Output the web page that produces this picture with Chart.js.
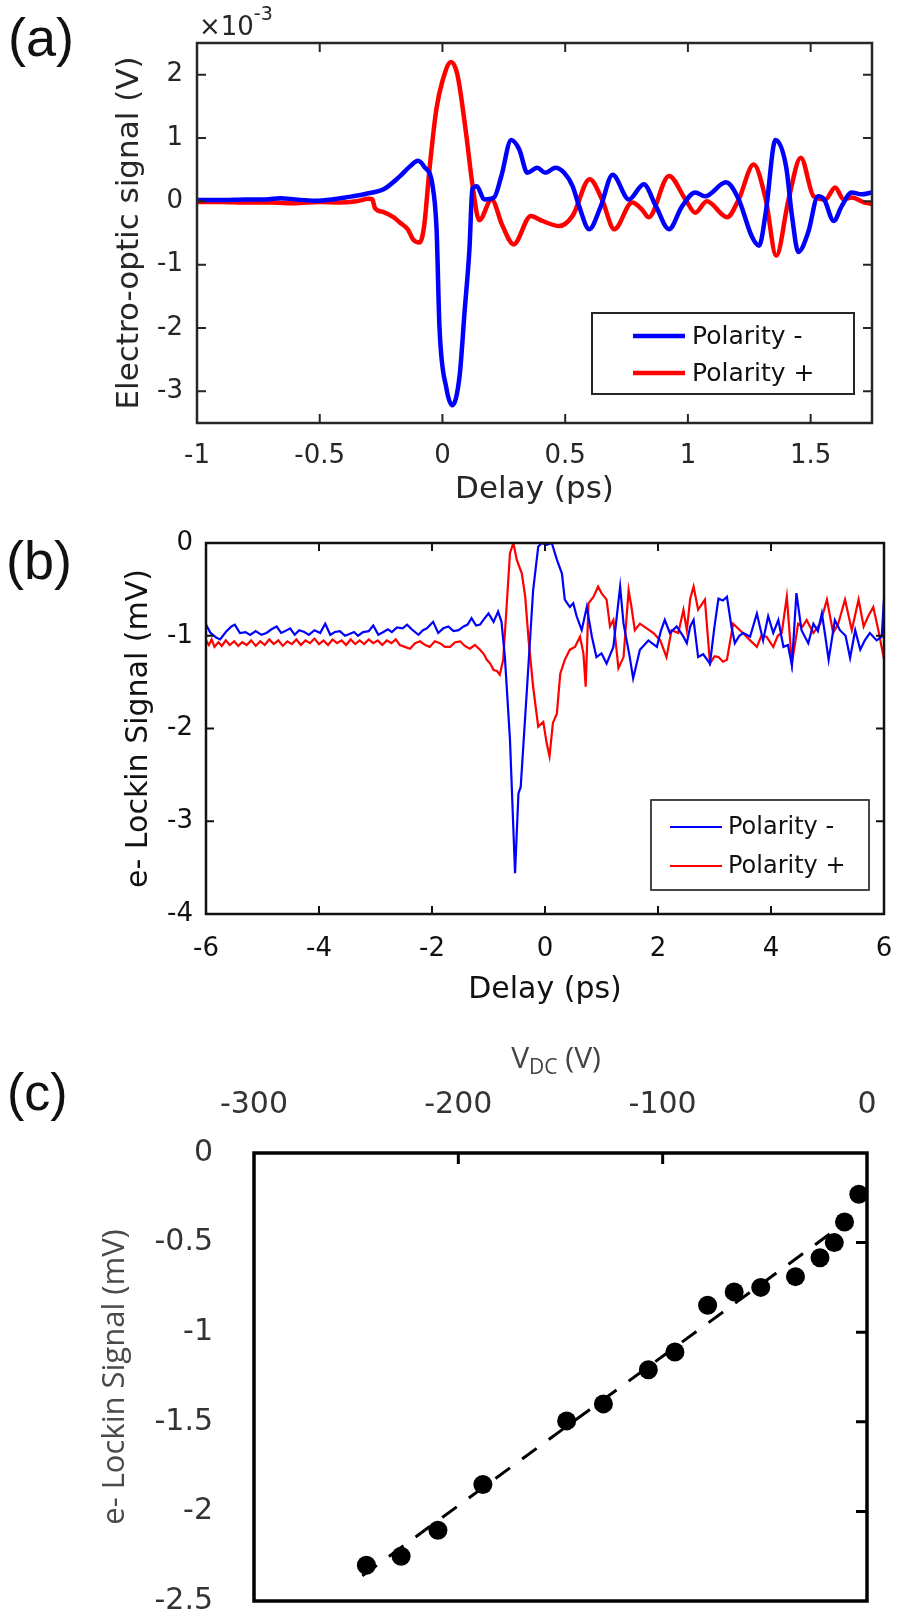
<!DOCTYPE html>
<html>
<head>
<meta charset="utf-8">
<script src="https://cdn.jsdelivr.net/npm/chart.js@4"></script>
<style>
html, body { margin: 0; padding: 0; background: #fff; }
body { width: 897px; height: 1623px; position: relative; overflow: hidden; }
canvas { position: absolute; left: 0; }
.panel { position: absolute; font-family: 'Liberation Sans', sans-serif; line-height: 54px; font-size: 54px; color: #111; }
</style>
</head>
<body>
<div class="panel" style="left:8px; top:10px;">(a)</div>
<div class="panel" style="left:6px; top:533px;">(b)</div>
<div class="panel" style="left:7px; top:1066px; font-size:52px; line-height:52px;">(c)</div>
<canvas id="chartA" width="897" height="520" style="top:0px"></canvas>
<canvas id="chartB" width="897" height="500" style="top:520px"></canvas>
<canvas id="chartC" width="897" height="593" style="top:1030px"></canvas>
<script>
const BLUE = '#0000ff';
const RED = '#ff0000';
const seriesLabels = ['Polarity -', 'Polarity +'];

// (a) electro-optic signal, x in ps, y in 1e-3 V
const eoDelayTicks = [-1, -0.5, 0, 0.5, 1, 1.5];
const eoSignalTicks = [-3, -2, -1, 0, 1, 2];
const eoPolarityNeg = [
  [-1.00, 0.02], [-0.90, 0.02], [-0.80, 0.03], [-0.72, 0.03], [-0.66, 0.05], [-0.60, 0.03],
  [-0.52, 0.01], [-0.45, 0.03], [-0.38, 0.07], [-0.31, 0.12], [-0.24, 0.19], [-0.175, 0.39],
  [-0.13, 0.56], [-0.10, 0.64], [-0.075, 0.55], [-0.04, 0.24], [-0.024, -0.44], [-0.012, -2.0],
  [0.016, -2.95], [0.04, -3.22], [0.07, -2.75], [0.09, -1.75], [0.11, -0.75], [0.122, 0.2],
  [0.14, 0.24], [0.17, 0.03], [0.21, 0.06], [0.24, 0.4], [0.28, 0.97], [0.313, 0.82],
  [0.346, 0.45], [0.386, 0.53], [0.42, 0.45], [0.46, 0.53], [0.496, 0.45], [0.53, 0.24],
  [0.557, -0.08], [0.598, -0.44], [0.645, -0.08], [0.693, 0.42], [0.76, 0.03], [0.82, 0.27],
  [0.87, -0.08], [0.923, -0.44], [0.976, -0.08], [1.03, 0.14], [1.07, 0.08], [1.155, 0.30],
  [1.207, 0.03], [1.26, -0.55], [1.29, -0.70], [1.317, -0.18], [1.357, 0.97], [1.40, 0.55],
  [1.424, -0.23], [1.45, -0.80], [1.49, -0.49], [1.53, 0.08], [1.555, 0.03], [1.594, -0.31],
  [1.626, -0.08], [1.667, 0.14], [1.707, 0.11], [1.75, 0.14]
];
const eoPolarityPos = [
  [-1.00, -0.01], [-0.90, -0.01], [-0.80, -0.02], [-0.70, -0.02], [-0.60, -0.03], [-0.50, -0.01],
  [-0.42, -0.02], [-0.35, 0.0], [-0.30, 0.04], [-0.285, 0.03], [-0.276, -0.10], [-0.24, -0.17],
  [-0.20, -0.25], [-0.175, -0.33], [-0.14, -0.45], [-0.12, -0.60], [-0.093, -0.65], [-0.075, -0.4],
  [-0.053, 0.5], [-0.025, 1.45], [0.0, 1.9], [0.035, 2.2], [0.061, 2.0], [0.096, 1.08],
  [0.123, 0.24], [0.15, -0.3], [0.20, 0.03], [0.245, -0.39], [0.29, -0.68], [0.36, -0.23],
  [0.407, -0.31], [0.476, -0.39], [0.53, -0.23], [0.60, 0.35], [0.65, 0.03], [0.70, -0.44],
  [0.773, -0.02], [0.813, -0.13], [0.84, -0.25], [0.923, 0.40], [0.99, 0.03], [1.03, -0.18],
  [1.077, 0.0], [1.16, -0.25], [1.207, 0.03], [1.268, 0.58], [1.317, 0.03], [1.36, -0.86],
  [1.41, 0.03], [1.46, 0.69], [1.512, 0.08], [1.56, 0.03], [1.60, 0.22], [1.635, 0.03],
  [1.667, 0.06], [1.72, -0.02], [1.75, -0.04]
];

// (b) e- lockin signal, x in ps, y in mV
const lockDelayTicks = [-6, -4, -2, 0, 2, 4, 6];
const lockSignalTicks = [-4, -3, -2, -1, 0];
const lockPolarityNeg = [
  [-6.00,-0.88],[-5.92,-0.97],[-5.82,-1.02],[-5.75,-1.04],[-5.65,-0.96],[-5.55,-0.90],[-5.49,-0.88],
  [-5.40,-0.97],[-5.30,-0.96],[-5.22,-0.99],[-5.12,-0.95],[-5.02,-0.99],[-4.93,-0.97],[-4.84,-0.93],
  [-4.75,-0.90],[-4.67,-0.97],[-4.60,-0.95],[-4.51,-0.92],[-4.43,-0.99],[-4.35,-0.94],[-4.26,-0.96],
  [-4.18,-0.99],[-4.08,-0.94],[-3.98,-0.97],[-3.89,-0.87],[-3.80,-0.99],[-3.72,-0.96],[-3.63,-0.95],
  [-3.54,-1.00],[-3.46,-0.98],[-3.38,-0.96],[-3.31,-1.00],[-3.22,-0.96],[-3.12,-0.95],[-3.04,-0.89],
  [-2.95,-0.99],[-2.86,-0.96],[-2.78,-0.93],[-2.71,-0.96],[-2.62,-0.91],[-2.52,-0.92],[-2.44,-0.88],
  [-2.36,-0.93],[-2.24,-0.99],[-2.16,-0.94],[-2.09,-0.92],[-1.98,-0.85],[-1.89,-0.97],[-1.80,-0.92],
  [-1.71,-0.90],[-1.62,-0.95],[-1.53,-0.94],[-1.44,-0.90],[-1.37,-0.88],[-1.30,-0.81],[-1.22,-0.89],
  [-1.15,-0.88],[-1.08,-0.82],[-1.00,-0.76],[-0.91,-0.85],[-0.83,-0.74],[-0.77,-0.85],[-0.71,-1.23],
  [-0.62,-2.12],[-0.53,-3.56],[-0.47,-2.70],[-0.43,-2.63],[-0.32,-1.58],[-0.21,-0.51],[-0.12,-0.04],
  [-0.06,0.00],[0.03,-0.02],[0.12,0.00],[0.21,-0.18],[0.30,-0.33],[0.35,-0.61],[0.44,-0.69],
  [0.50,-0.65],[0.56,-0.79],[0.65,-0.94],[0.74,-0.69],[0.83,-1.01],[0.91,-1.23],[1.00,-1.19],
  [1.09,-1.30],[1.21,-1.12],[1.33,-0.47],[1.39,-0.87],[1.50,-1.23],[1.56,-1.46],[1.68,-1.15],
  [1.83,-1.05],[1.98,-1.12],[2.05,-0.95],[2.12,-0.83],[2.21,-0.97],[2.33,-0.90],[2.45,-1.01],
  [2.51,-1.08],[2.57,-0.90],[2.63,-0.83],[2.71,-1.23],[2.80,-1.20],[2.92,-1.30],[3.00,-0.90],
  [3.07,-0.60],[3.15,-0.62],[3.22,-0.58],[3.30,-0.90],[3.36,-1.08],[3.44,-1.00],[3.51,-0.97],
  [3.63,-1.01],[3.75,-0.76],[3.86,-1.05],[3.95,-0.79],[4.04,-0.97],[4.13,-0.83],[4.22,-1.12],
  [4.30,-1.10],[4.37,-1.32],[4.45,-0.54],[4.54,-0.94],[4.66,-1.08],[4.75,-0.87],[4.83,-0.95],
  [4.90,-0.76],[4.96,-1.00],[5.02,-1.26],[5.13,-0.83],[5.22,-0.94],[5.32,-1.00],[5.40,-1.24],
  [5.49,-0.94],[5.58,-1.15],[5.66,-1.05],[5.75,-0.97],[5.87,-1.05],[5.96,-1.01],[6.00,-0.60]
];
const lockPolarityPos = [
  [-6.00,-1.05],[-5.95,-1.10],[-5.90,-1.04],[-5.85,-1.12],[-5.78,-1.07],[-5.72,-1.11],[-5.65,-1.05],
  [-5.58,-1.10],[-5.50,-1.06],[-5.43,-1.11],[-5.36,-1.07],[-5.28,-1.10],[-5.20,-1.05],[-5.12,-1.11],
  [-5.04,-1.06],[-4.96,-1.10],[-4.88,-1.04],[-4.80,-1.09],[-4.72,-1.05],[-4.64,-1.11],[-4.56,-1.06],
  [-4.48,-1.09],[-4.40,-1.04],[-4.32,-1.10],[-4.24,-1.05],[-4.16,-1.08],[-4.08,-1.03],[-4.00,-1.09],
  [-3.92,-1.05],[-3.84,-1.10],[-3.76,-1.04],[-3.68,-1.08],[-3.60,-1.05],[-3.52,-1.10],[-3.44,-1.04],
  [-3.36,-1.09],[-3.28,-1.05],[-3.20,-1.09],[-3.12,-1.04],[-3.04,-1.08],[-2.96,-1.05],[-2.88,-1.10],
  [-2.80,-1.05],[-2.72,-1.08],[-2.64,-1.04],[-2.57,-1.10],[-2.48,-1.12],[-2.39,-1.14],[-2.30,-1.08],
  [-2.21,-1.06],[-2.12,-1.10],[-2.04,-1.12],[-1.95,-1.06],[-1.86,-1.08],[-1.77,-1.12],[-1.68,-1.12],
  [-1.59,-1.07],[-1.50,-1.06],[-1.42,-1.11],[-1.33,-1.14],[-1.24,-1.10],[-1.15,-1.15],[-1.08,-1.20],
  [-1.03,-1.26],[-0.97,-1.30],[-0.91,-1.37],[-0.85,-1.38],[-0.80,-1.42],[-0.74,-1.26],[-0.68,-0.69],
  [-0.62,-0.11],[-0.56,0.00],[-0.50,-0.18],[-0.41,-0.33],[-0.35,-0.58],[-0.29,-1.05],[-0.21,-1.55],
  [-0.12,-1.98],[-0.03,-1.93],[0.03,-2.16],[0.08,-2.30],[0.14,-1.94],[0.21,-1.84],[0.27,-1.41],
  [0.35,-1.26],[0.44,-1.15],[0.53,-1.12],[0.62,-1.01],[0.68,-1.19],[0.72,-1.55],[0.77,-0.65],
  [0.86,-0.58],[0.94,-0.47],[1.00,-0.54],[1.09,-0.61],[1.15,-0.90],[1.21,-0.83],[1.30,-1.35],
  [1.39,-1.23],[1.48,-0.51],[1.53,-0.69],[1.59,-0.94],[1.68,-0.87],[1.80,-0.92],[1.92,-0.97],
  [2.04,-1.05],[2.15,-1.23],[2.24,-0.94],[2.36,-0.97],[2.45,-0.72],[2.51,-0.94],[2.57,-0.60],
  [2.63,-0.47],[2.71,-0.72],[2.83,-0.61],[2.92,-1.30],[3.00,-1.22],[3.07,-1.23],[3.15,-1.28],
  [3.22,-1.26],[3.33,-0.87],[3.45,-0.94],[3.55,-1.00],[3.63,-1.05],[3.75,-1.12],[3.83,-1.00],
  [3.92,-1.01],[4.04,-1.12],[4.12,-1.00],[4.19,-0.97],[4.28,-0.58],[4.37,-1.30],[4.48,-0.87],
  [4.56,-0.90],[4.63,-0.83],[4.75,-0.97],[4.87,-0.87],[4.99,-0.61],[5.10,-0.97],[5.19,-0.87],
  [5.31,-0.61],[5.43,-0.94],[5.55,-0.61],[5.64,-0.90],[5.72,-0.79],[5.81,-0.69],[5.90,-0.94],
  [5.98,-1.19],[6.00,-1.12]
];

// (c) lockin signal vs DC voltage
const vdcTicks = [-300, -200, -100, 0];
const vdcSignalTicks = [0, -0.5, -1, -1.5, -2, -2.5];
const vdcVolts = [-245, -228, -210, -188, -147, -129, -107, -94, -78, -65, -52, -35, -23, -16, -11, -4];
const vdcSignal = [-2.30, -2.25, -2.105, -1.85, -1.495, -1.40, -1.21, -1.11, -0.85, -0.775, -0.75, -0.69, -0.585, -0.50, -0.385, -0.23];
const fitVolts = [-247, -12];
const fitSignal = [-2.36, -0.40];

function pts(pairs) {
  return pairs.map(p => ({ x: p[0], y: p[1] }));
}
function zip(xs, ys) {
  return xs.map((x, i) => ({ x: x, y: ys[i] }));
}
function fixTicks(list) {
  return s => { s.ticks = list.map(v => ({ value: v })); };
}
// fixed axis box sizes, and no extra room asked for edge labels
function xBox(h) {
  return s => { s.height = h; s.paddingLeft = 0; s.paddingRight = 0; };
}
function yBox(w) {
  return s => { s.width = w; s.paddingTop = 0; s.paddingBottom = 0; };
}

// box with inward tick marks, MATLAB style
const framePlugin = {
  id: 'frame',
  afterDatasetsDraw(chart, args, o) {
    const { ctx, chartArea: a } = chart;
    const xs = chart.scales.x, ys = chart.scales.y;
    ctx.save();
    ctx.strokeStyle = o.color;
    ctx.lineWidth = o.tickWidth;
    ctx.beginPath();
    o.xTicks.forEach(v => {
      const px = xs.getPixelForValue(v);
      if (o.xSides.includes('bottom')) { ctx.moveTo(px, a.bottom); ctx.lineTo(px, a.bottom - o.tickLen); }
      if (o.xSides.includes('top')) { ctx.moveTo(px, a.top); ctx.lineTo(px, a.top + o.tickLen); }
    });
    o.yTicks.forEach(v => {
      const py = ys.getPixelForValue(v);
      if (o.ySides.includes('left')) { ctx.moveTo(a.left, py); ctx.lineTo(a.left + o.tickLen, py); }
      if (o.ySides.includes('right')) { ctx.moveTo(a.right, py); ctx.lineTo(a.right - o.tickLen, py); }
    });
    ctx.stroke();
    ctx.lineWidth = o.borderWidth;
    ctx.strokeRect(a.left, a.top, a.right - a.left, a.bottom - a.top);
    ctx.restore();
  }
};

const boxLegendPlugin = {
  id: 'boxLegend',
  afterDraw(chart, args, o) {
    const ctx = chart.ctx;
    ctx.save();
    ctx.fillStyle = '#fff';
    ctx.fillRect(o.x, o.y, o.w, o.h);
    ctx.strokeStyle = o.color;
    ctx.lineWidth = o.borderWidth;
    ctx.strokeRect(o.x, o.y, o.w, o.h);
    chart.data.datasets.forEach((ds, i) => {
      const cy = o.y + o.rows[i];
      ctx.strokeStyle = ds.borderColor;
      ctx.lineWidth = ds.borderWidth;
      ctx.beginPath();
      ctx.moveTo(o.x + o.line[0], cy);
      ctx.lineTo(o.x + o.line[1], cy);
      ctx.stroke();
      ctx.fillStyle = o.textColor;
      ctx.font = o.font;
      ctx.textBaseline = 'middle';
      ctx.textAlign = 'left';
      ctx.fillText(ds.label, o.x + o.textX, cy + 1);
    });
    ctx.restore();
  }
};

const richTextPlugin = {
  id: 'richText',
  afterDraw(chart, args, o) {
    const ctx = chart.ctx;
    ctx.save();
    ctx.fillStyle = o.color;
    ctx.textBaseline = 'alphabetic';
    ctx.textAlign = 'left';
    const widths = o.parts.map(p => {
      ctx.font = p.size + 'px ' + o.family;
      return ctx.measureText(p.text).width;
    });
    const total = widths.reduce((s, w) => s + w, 0);
    let x = o.align === 'center' ? o.x - total / 2 : o.x;
    o.parts.forEach((p, i) => {
      ctx.font = p.size + 'px ' + o.family;
      ctx.fillText(p.text, x, o.y + (p.dy || 0));
      x += widths[i];
    });
    ctx.restore();
  }
};

Chart.defaults.font.family = "'DejaVu Sans', sans-serif";

// (a)
new Chart(document.getElementById('chartA'), {
  type: 'line',
  data: {
    datasets: [
      { label: seriesLabels[0], data: pts(eoPolarityNeg), borderColor: BLUE, borderWidth: 4.5,
        pointRadius: 0, cubicInterpolationMode: 'monotone' },
      { label: seriesLabels[1], data: pts(eoPolarityPos), borderColor: RED, borderWidth: 4.5,
        pointRadius: 0, cubicInterpolationMode: 'monotone' }
    ]
  },
  options: {
    responsive: false, devicePixelRatio: 1, animation: false,
    layout: { padding: { top: 43, right: 25, bottom: 0, left: 0 } },
    scales: {
      x: {
        type: 'linear', min: -1, max: 1.75,
        grid: { display: false, drawTicks: false }, border: { display: false },
        afterBuildTicks: fixTicks(eoDelayTicks),
        afterFit: xBox(97),
        ticks: { padding: 18, color: '#262626', font: { size: 26 }, maxRotation: 0, autoSkip: false, callback: v => String(v) },
        title: { display: true, text: 'Delay (ps)', color: '#262626', font: { size: 31 }, padding: { top: 0, bottom: 11 } }
      },
      y: {
        type: 'linear', min: -3.5, max: 2.5,
        grid: { display: false, drawTicks: false }, border: { display: false },
        afterBuildTicks: fixTicks(eoSignalTicks),
        afterFit: yBox(197),
        ticks: { padding: 14, color: '#262626', font: { size: 26 }, autoSkip: false, callback: v => String(v) },
        title: { display: true, text: 'Electro-optic signal (V)', color: '#262626', font: { size: 31 }, padding: { top: 111, bottom: 0 } }
      }
    },
    plugins: {
      legend: { display: false }, tooltip: { enabled: false },
      frame: { color: '#262626', tickWidth: 2, borderWidth: 2.5, tickLen: 9,
               xTicks: eoDelayTicks, xSides: ['top', 'bottom'], yTicks: eoSignalTicks, ySides: ['left', 'right'] },
      boxLegend: { x: 592, y: 313, w: 262, h: 81, rows: [23, 60], line: [41, 93], textX: 100,
                   color: '#262626', borderWidth: 2, textColor: '#111', font: "25px 'DejaVu Sans'" },
      richText: { family: "'DejaVu Sans'", color: '#262626', x: 199, y: 35, align: 'left',
                  parts: [{ text: '\u00d710', size: 26 }, { text: '-3', size: 19, dy: -15 }] }
    }
  },
  plugins: [framePlugin, boxLegendPlugin, richTextPlugin]
});

// (b)
new Chart(document.getElementById('chartB'), {
  type: 'line',
  data: {
    datasets: [
      { label: seriesLabels[0], data: pts(lockPolarityNeg), borderColor: BLUE, borderWidth: 2.2, pointRadius: 0, tension: 0 },
      { label: seriesLabels[1], data: pts(lockPolarityPos), borderColor: RED, borderWidth: 2.2, pointRadius: 0, tension: 0 }
    ]
  },
  options: {
    responsive: false, devicePixelRatio: 1, animation: false,
    layout: { padding: { top: 23, right: 13, bottom: 0, left: 0 } },
    scales: {
      x: {
        type: 'linear', min: -6, max: 6,
        grid: { display: false, drawTicks: false }, border: { display: false },
        afterBuildTicks: fixTicks(lockDelayTicks),
        afterFit: xBox(106),
        ticks: { padding: 20, color: '#111', font: { size: 26 }, maxRotation: 0, autoSkip: false, callback: v => String(v) },
        title: { display: true, text: 'Delay (ps)', color: '#111', font: { size: 30 }, padding: { top: 0, bottom: 12 } }
      },
      y: {
        type: 'linear', min: -4, max: 0,
        grid: { display: false, drawTicks: false }, border: { display: false },
        afterBuildTicks: fixTicks(lockSignalTicks),
        afterFit: yBox(206),
        ticks: { padding: 13, color: '#111', font: { size: 26 }, autoSkip: false, callback: v => String(v) },
        title: { display: true, text: 'e- Lockin Signal (mV)', color: '#111', font: { size: 30 }, padding: { top: 121, bottom: 0 } }
      }
    },
    plugins: {
      legend: { display: false }, tooltip: { enabled: false },
      frame: { color: '#111', tickWidth: 2, borderWidth: 2.5, tickLen: 8,
               xTicks: lockDelayTicks, xSides: ['top', 'bottom'], yTicks: lockSignalTicks, ySides: ['left', 'right'] },
      boxLegend: { x: 651, y: 280, w: 218, h: 90, rows: [27, 66], line: [19, 71], textX: 77,
                   color: '#333', borderWidth: 1.8, textColor: '#111', font: "24px 'DejaVu Sans'" }
    }
  },
  plugins: [framePlugin, boxLegendPlugin]
});

// (c)
new Chart(document.getElementById('chartC'), {
  type: 'scatter',
  data: {
    datasets: [
      { label: 'data', data: zip(vdcVolts, vdcSignal), backgroundColor: '#000', borderColor: '#000',
        pointRadius: 9.5, pointBorderWidth: 0, showLine: false, order: 0 },
      { label: 'fit', data: zip(fitVolts, fitSignal), borderColor: '#000', borderWidth: 3,
        borderDash: [18, 15], pointRadius: 0, showLine: true, order: 1 }
    ]
  },
  options: {
    responsive: false, devicePixelRatio: 1, animation: false,
    layout: { padding: { top: 0, right: 30, bottom: 22, left: 0 } },
    scales: {
      x: {
        type: 'linear', position: 'top', min: -300, max: 0,
        grid: { display: false, drawTicks: false }, border: { display: false },
        afterBuildTicks: fixTicks(vdcTicks),
        afterFit: xBox(123),
        ticks: { padding: 30, color: '#333', font: { size: 30 }, maxRotation: 0, autoSkip: false, callback: v => String(v) }
      },
      y: {
        type: 'linear', min: -2.5, max: 0,
        grid: { display: false, drawTicks: false }, border: { display: false },
        afterBuildTicks: fixTicks(vdcSignalTicks),
        afterFit: yBox(254),
        ticks: { padding: 41, color: '#333', font: { size: 30 }, autoSkip: false, callback: v => String(v) },
        title: { display: true, text: 'e- Lockin Signal (mV)', color: '#4a4a4a',
                 font: { size: 31, family: "'Open Sans', sans-serif" }, padding: { top: 97, bottom: 0 } }
      }
    },
    plugins: {
      legend: { display: false }, tooltip: { enabled: false },
      frame: { color: '#000', tickWidth: 3, borderWidth: 3.5, tickLen: 11,
               xTicks: [-200, -100], xSides: ['top'], yTicks: [-0.5, -1, -1.5, -2], ySides: ['right'] },
      richText: { family: "'Open Sans'", color: '#444', x: 556, y: 38, align: 'center',
                  parts: [{ text: 'V', size: 30 }, { text: 'DC', size: 21, dy: 6 }, { text: ' (V)', size: 30 }] }
    }
  },
  plugins: [framePlugin, richTextPlugin]
});
</script>
</body>
</html>
